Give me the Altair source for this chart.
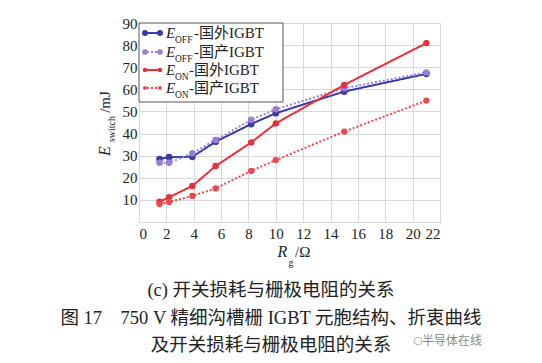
import altair as alt
import pandas as pd

# ---- data ----
rg = [1.5, 2.2, 3.9, 5.6, 8.2, 10, 15, 21]
eoff_foreign = [28.5, 29.3, 29.5, 36.3, 44.3, 49.2, 59.0, 67.0]
eoff_domestic = [26.8, 26.8, 31.1, 37.1, 46.2, 51.0, 60.5, 67.6]
eon_foreign = [9.2, 11.2, 16.3, 25.3, 36.0, 44.6, 62.0, 80.9]
eon_domestic = [8.1, 9.0, 11.8, 15.2, 23.1, 28.0, 40.9, 54.9]

series_names = ["EOFF-国外IGBT", "EOFF-国产IGBT", "EON-国外IGBT", "EON-国产IGBT"]
series_values = [eoff_foreign, eoff_domestic, eon_foreign, eon_domestic]
series_sub = ["OFF", "OFF", "ON", "ON"]
series_rest = ["-国外IGBT", "-国产IGBT", "-国外IGBT", "-国产IGBT"]
series_colors = ["#3b3ba6", "#9a7fd6", "#e8303a", "#f0474f"]
series_dash = [[1, 0], [2, 2], [1, 0], [2, 2]]
series_size = [45, 40, 26, 18]

x_ticks = list(range(0, 23, 2))
y_ticks = list(range(0, 91, 10))

caption_lines = [
    "(c) 开关损耗与栅极电阻的关系",
    "图 17\u3000750 V 精细沟槽栅 IGBT 元胞结构、折衷曲线",
    "及开关损耗与栅极电阻的关系",
]
watermark = "半导体在线"

rows = []
for name, vals in zip(series_names, series_values):
    for x, y in zip(rg, vals):
        rows.append({"Rg": x, "E": y, "series": name})
df = pd.DataFrame(rows)

FONT = "'Liberation Serif', 'Noto Sans CJK SC', serif"
W, H = 301, 199

color_scale = alt.Scale(domain=series_names, range=series_colors)
dash_scale = alt.Scale(domain=series_names, range=series_dash)
size_scale = alt.Scale(domain=series_names, range=series_size)

xenc = alt.X(
    "Rg:Q",
    scale=alt.Scale(domain=[0, 22], nice=False, zero=False),
    axis=alt.Axis(
        values=x_ticks, title=None, grid=True, ticks=False, domain=False,
        labelFont=FONT, labelFontSize=15, labelColor="#222", labelPadding=4,
        labelExpr="datum.value == 0 ? '0\u2003' : datum.label",
        gridColor="#d4dade", gridWidth=1,
    ),
)
yenc = alt.Y(
    "E:Q",
    scale=alt.Scale(domain=[0, 90], nice=False),
    axis=alt.Axis(
        values=y_ticks, title=None, grid=True, ticks=False, domain=False,
        labelFont=FONT, labelFontSize=15, labelColor="#222", labelPadding=2,
        labelExpr="datum.value == 0 ? '' : datum.label",
        gridColor="#d4dade", gridWidth=1,
    ),
)

base = alt.Chart(df).encode(x=xenc, y=yenc)
lines = base.mark_line(strokeWidth=2).encode(
    color=alt.Color("series:N", scale=color_scale, legend=None),
    strokeDash=alt.StrokeDash("series:N", scale=dash_scale, legend=None),
    detail="series:N",
)
points = base.mark_point(filled=True, opacity=1).encode(
    color=alt.Color("series:N", scale=color_scale, legend=None),
    size=alt.Size("series:N", scale=size_scale, legend=None),
)

one = alt.Data(values=[{}])
layers = [lines, points]

# ---- manual legend (subscripts) ----
layers.append(
    alt.Chart(one).mark_rect(fill="white", stroke="#555", strokeWidth=1).encode(
        x=alt.value(0), x2=alt.value(144), y=alt.value(0), y2=alt.value(79)
    )
)
row_y = [10, 29, 47, 65]
for i in range(4):
    yy = row_y[i]
    layers.append(
        alt.Chart(one).mark_rule(
            color=series_colors[i], strokeWidth=1.8, strokeDash=series_dash[i]
        ).encode(x=alt.value(4), x2=alt.value(23), y=alt.value(yy))
    )
    for px in (6, 21):
        layers.append(
            alt.Chart(one).mark_point(
                filled=True, opacity=1, color=series_colors[i],
                size=series_size[i] * 0.8,
            ).encode(x=alt.value(px), y=alt.value(yy))
        )
    layers.append(
        alt.Chart(one).mark_text(
            text="E", font=FONT, fontStyle="italic", fontSize=15,
            align="left", baseline="middle", color="#222",
        ).encode(x=alt.value(27), y=alt.value(yy))
    )
    layers.append(
        alt.Chart(one).mark_text(
            text=series_sub[i], font=FONT, fontSize=9.5,
            align="left", baseline="middle", color="#222",
        ).encode(x=alt.value(36), y=alt.value(yy + 7))
    )
    rest_x = 55 if series_sub[i] == "OFF" else 50
    layers.append(
        alt.Chart(one).mark_text(
            text=series_rest[i], font=FONT, fontSize=15,
            align="left", baseline="middle", color="#222",
        ).encode(x=alt.value(rest_x), y=alt.value(yy))
    )

# ---- axis titles ----
def txt(t, x, y, size=15, style="normal", angle=0, align="center", color="#222"):
    return alt.Chart(one).mark_text(
        text=t, font=FONT, fontSize=size, fontStyle=style, angle=angle,
        align=align, baseline="middle", color=color,
    ).encode(x=alt.value(x), y=alt.value(y))

layers += [
    txt("E", -34, 128, 16, "italic", 270),
    txt("switch", -27, 106, 10, "normal", 270),
    txt("/mJ", -34, 79, 15, "normal", 270),
    txt("R", 143.5, 228.5, 16, "italic"),
    txt("g", 152, 240, 10),
    txt("/Ω", 156, 228.5, 15, "normal", 0, "left"),
]

# ---- caption ----
cap_y = [267, 295, 322]
for line, yy in zip(caption_lines, cap_y):
    layers.append(txt(line, 132, yy, 18.5, color="#222"))

layers.append(
    alt.Chart(one).mark_point(color="#999", size=60, strokeWidth=1).encode(
        x=alt.value(279), y=alt.value(318)
    )
)
layers.append(txt(watermark, 313, 318, 12, color="#888"))

chart = (
    alt.layer(*layers)
    .properties(
        width=W, height=H,
        autosize=alt.AutoSizeParams(type="none"),
        padding={"left": 131, "top": 15, "right": 80, "bottom": 139},
    )
    .configure_view(stroke="#555", strokeWidth=1.5)
    .configure(background="white")
)

chart.save("out.html", embed_options={"renderer": "svg", "actions": False})
